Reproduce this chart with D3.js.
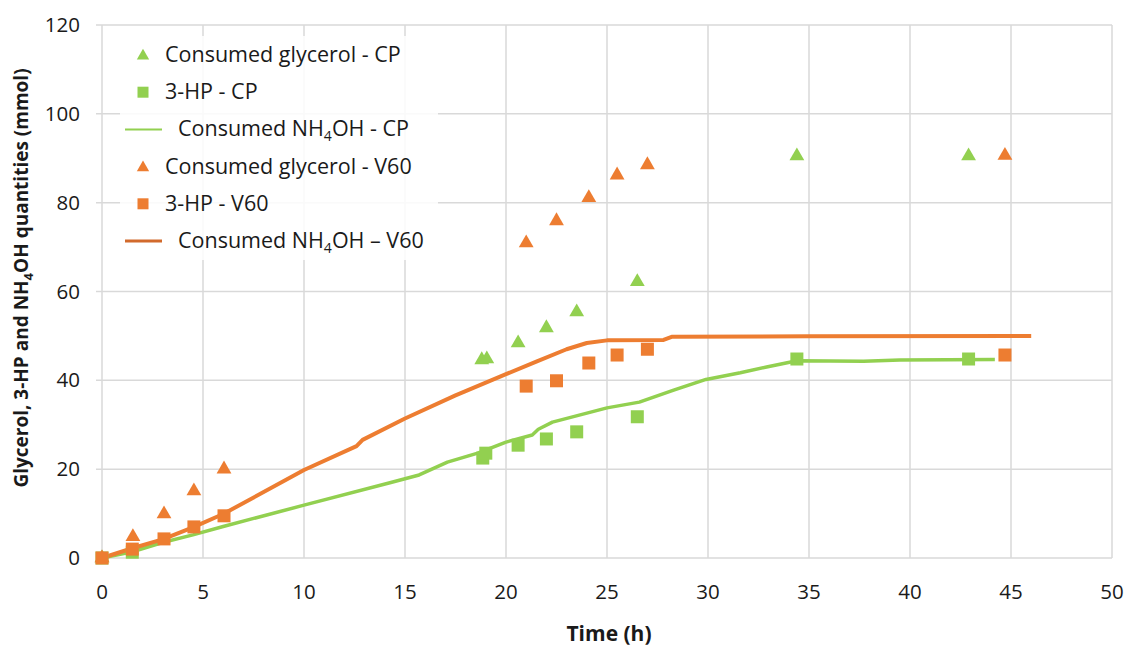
<!DOCTYPE html>
<html>
<head>
<meta charset="utf-8">
<script src="https://cdn.jsdelivr.net/npm/d3@7"></script>
<style>
  body { margin: 0; background: #fff; }
  text { font-family: "Open Sans", sans-serif; fill: #1a1a1a; }
</style>
</head>
<body>
<svg id="chart" width="1128" height="646"></svg>
<script>
// time (h) / value (mmol) pairs
const glycerolCP = [[0, 0], [18.8, 44.6], [19.05, 44.8], [20.6, 48.4], [22.0, 51.8], [23.5, 55.4], [26.5, 62.2], [34.4, 90.5], [42.9, 90.5]];
const hpCP = [[0, 0], [1.5, 1.3], [18.85, 22.5], [19.0, 23.6], [20.6, 25.4], [22.0, 26.8], [23.5, 28.4], [26.5, 31.8], [34.4, 44.8], [42.9, 44.8]];
const nh4ohCP = [[0, 0], [1.5, 1.4], [3, 3.5], [4.5, 5.2], [6, 7.1], [10, 11.9], [14.3, 17.0], [15.7, 18.7], [17.1, 21.6], [18.6, 23.6], [20, 26.1], [21.3, 27.7], [21.6, 29.0], [22.3, 30.6], [25, 33.8], [26.6, 35.1], [28.3, 37.8], [29.9, 40.2], [31.6, 41.7], [32.9, 43.0], [34.4, 44.4], [37.7, 44.3], [39.5, 44.6], [44.2, 44.7]];
const glycerolV60 = [[0, 0], [1.53, 4.8], [3.07, 9.9], [4.55, 15.1], [6.04, 20.0], [21.0, 70.9], [22.5, 75.9], [24.1, 81.1], [25.5, 86.2], [27.0, 88.5], [44.7, 90.6]];
const hpV60 = [[0, 0], [1.5, 2.0], [3.07, 4.3], [4.55, 7.0], [6.04, 9.5], [21.0, 38.7], [22.5, 39.9], [24.1, 43.9], [25.5, 45.7], [27.0, 47.0], [44.7, 45.7]];
const nh4ohV60 = [[0, 0], [1.5, 2.2], [3, 4.2], [4.5, 6.9], [6, 9.9], [10, 19.8], [12.6, 25.2], [12.9, 26.6], [15, 31.4], [17.5, 36.6], [20, 41.4], [21.5, 44.2], [23, 47.0], [24, 48.4], [25, 49.0], [27.8, 49.1], [28.2, 49.8], [35, 49.9], [46, 50.0]];

const xTicks = [0, 5, 10, 15, 20, 25, 30, 35, 40, 45, 50];
const yTicks = [0, 20, 40, 60, 80, 100, 120];

const green = '#92d050';
const orange = '#ed7d31';

const svg = d3.select('#chart');
const margin = { top: 25, right: 16, bottom: 88, left: 102 };
const width = +svg.attr('width');
const height = +svg.attr('height');

const x = d3.scaleLinear().domain([0, 50]).range([margin.left, width - margin.right]);
const y = d3.scaleLinear().domain([0, 120]).range([height - margin.bottom, margin.top]);

// gridlines
svg.append('g')
	.selectAll('line')
	.data(xTicks)
	.enter().append('line')
	.attr('x1', d => x(d)).attr('x2', d => x(d))
	.attr('y1', y(120)).attr('y2', y(0))
	.attr('stroke', '#d9d9d9').attr('stroke-width', 1.5);

svg.append('g')
	.selectAll('line')
	.data(yTicks)
	.enter().append('line')
	.attr('x1', x(0) - 6).attr('x2', x(50))
	.attr('y1', d => y(d)).attr('y2', d => y(d))
	.attr('stroke', '#d9d9d9').attr('stroke-width', 1.5);

// tick labels
svg.append('g')
	.selectAll('text')
	.data(yTicks)
	.enter().append('text')
	.attr('x', 80).attr('y', d => y(d) + 7)
	.attr('text-anchor', 'end')
	.attr('font-size', 20.5)
	.text(d => d);

svg.append('g')
	.selectAll('text')
	.data(xTicks)
	.enter().append('text')
	.attr('x', d => x(d)).attr('y', 599)
	.attr('text-anchor', 'middle')
	.attr('font-size', 20.5)
	.text(d => d);

// axis titles
svg.append('text')
	.attr('x', x(25) + 2).attr('y', 641)
	.attr('text-anchor', 'middle')
	.attr('font-size', 21).attr('font-weight', 'bold')
	.text('Time (h)');

const yTitle = svg.append('text')
	.attr('transform', 'translate(28,278) rotate(-90)')
	.attr('text-anchor', 'middle')
	.attr('font-size', 19).attr('font-weight', 'bold');
yTitle.append('tspan').text('Glycerol, 3-HP and NH');
yTitle.append('tspan').attr('font-size', 13).attr('dy', 5).text('4');
yTitle.append('tspan').attr('dy', -5).text('OH quantities (mmol)');

// lines
const line = d3.line().x(d => x(d[0])).y(d => y(d[1]));

svg.append('path')
	.datum(nh4ohCP)
	.attr('d', line)
	.attr('fill', 'none').attr('stroke', green).attr('stroke-width', 3.5)
	.attr('stroke-linejoin', 'round');

svg.append('path')
	.datum(nh4ohV60)
	.attr('d', line)
	.attr('fill', 'none').attr('stroke', orange).attr('stroke-width', 4)
	.attr('stroke-linejoin', 'round');

// markers
const tri = d3.symbol().type(d3.symbolTriangle).size(95);

function squares(data, color) {
	svg.append('g')
		.selectAll('rect')
		.data(data)
		.enter().append('rect')
		.attr('x', d => x(d[0]) - 6.5).attr('y', d => y(d[1]) - 6.5)
		.attr('width', 13).attr('height', 13)
		.attr('fill', color);
}

function triangles(data, color) {
	svg.append('g')
		.selectAll('path')
		.data(data)
		.enter().append('path')
		.attr('d', tri)
		.attr('transform', d => 'translate(' + x(d[0]) + ',' + y(d[1]) + ')')
		.attr('fill', color);
}

triangles(glycerolCP, green);
squares(hpCP, green);
triangles(glycerolV60, orange);
squares(hpV60, orange);

// legend
const legend = svg.append('g');
legend.append('rect')
	.attr('x', 120).attr('y', 36).attr('width', 318).attr('height', 224)
	.attr('fill', '#fff').attr('fill-opacity', 0.85);

const legendItems = [
	{ kind: 'tri', color: green, label: ['Consumed glycerol - CP'] },
	{ kind: 'sq', color: green, label: ['3-HP - CP'] },
	{ kind: 'line', color: green, label: ['Consumed NH', '4', 'OH - CP'] },
	{ kind: 'tri', color: orange, label: ['Consumed glycerol - V60'] },
	{ kind: 'sq', color: orange, label: ['3-HP - V60'] },
	{ kind: 'line', color: '#d26a2c', label: ['Consumed NH', '4', 'OH \u2013 V60'] }
];

legendItems.forEach(function(item, i) {
	const cy = 55 + i * 37.2;
	if (item.kind === 'tri') {
		legend.append('path')
			.attr('d', d3.symbol().type(d3.symbolTriangle).size(66)())
			.attr('transform', 'translate(143,' + (cy + 1) + ')')
			.attr('fill', item.color);
	} else if (item.kind === 'sq') {
		legend.append('rect')
			.attr('x', 137.5).attr('y', cy - 5.5).attr('width', 11).attr('height', 11)
			.attr('fill', item.color);
	} else {
		legend.append('line')
			.attr('x1', 125).attr('x2', 162).attr('y1', cy).attr('y2', cy)
			.attr('stroke', item.color).attr('stroke-width', item.color === green ? 2 : 3);
	}
	const t = legend.append('text')
		.attr('x', item.kind === 'line' ? 178 : 165)
		.attr('y', cy + 7)
		.attr('font-size', 21.5);
	t.append('tspan').text(item.label[0]);
	if (item.label.length > 1) {
		t.append('tspan').attr('font-size', 14).attr('dy', 5).text(item.label[1]);
		t.append('tspan').attr('dy', -5).text(item.label[2]);
	}
});
</script>
</body>
</html>
